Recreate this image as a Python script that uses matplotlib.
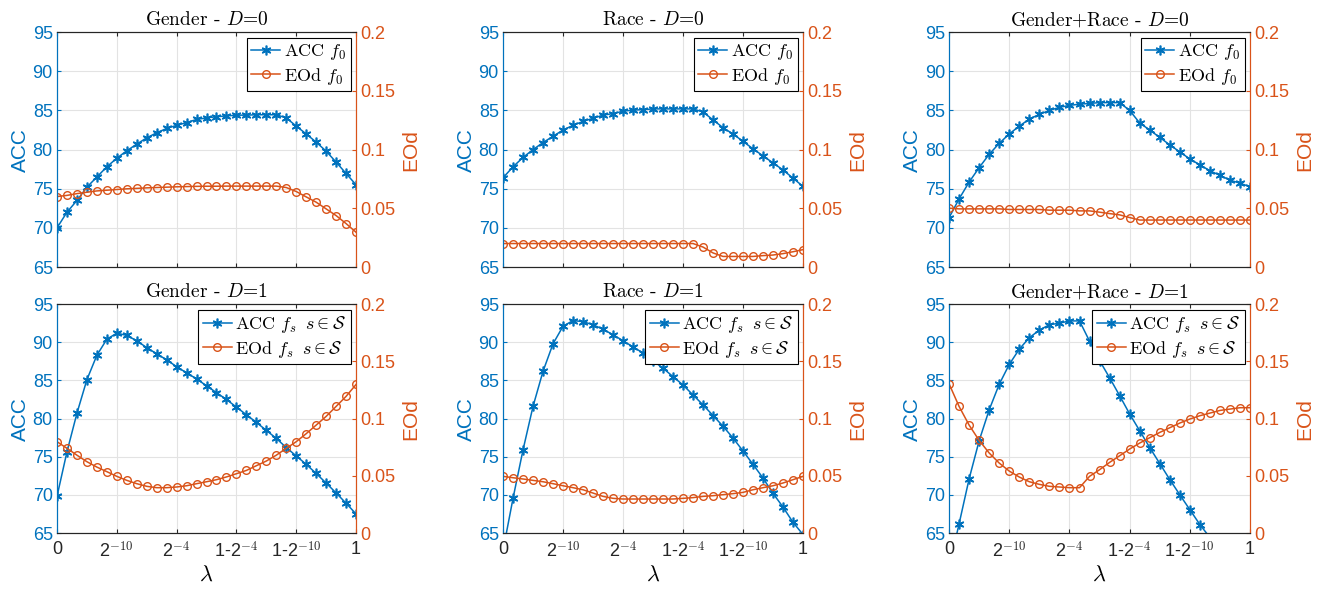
import numpy as np
import matplotlib
matplotlib.use('Agg')
import matplotlib.pyplot as plt

plt.rcParams['mathtext.fontset'] = 'cm'
plt.rcParams['font.family'] = ['Liberation Sans', 'DejaVu Sans']

BLUE = '#0072BD'
ORANGE = '#D95319'
DARK = '#262626'

lam = np.arange(31)
xtick_pos = [0, 6, 12, 18, 24, 30]
xtick_labels = ['0', r'2$^{\mathsf{-10}}$', r'2$^{\mathsf{-4}}$',
                r'1-2$^{\mathsf{-4}}$', r'1-2$^{\mathsf{-10}}$', '1']
acc_ticks = [65, 70, 75, 80, 85, 90, 95]
eod_ticks = [0, 0.05, 0.1, 0.15, 0.2]
eod_labels = ['0', '0.05', '0.1', '0.15', '0.2']

titles = ['Gender - $D$=0', 'Race - $D$=0', 'Gender+Race - $D$=0',
          'Gender - $D$=1', 'Race - $D$=1', 'Gender+Race - $D$=1']

# D=0
acc_gender_0 = [70.0, 72.0, 73.5, 75.2, 76.5, 77.8, 78.9, 79.85, 80.7, 81.5, 82.15,
                82.7, 83.1, 83.45, 83.85, 84.05, 84.2, 84.3, 84.4, 84.4, 84.45,
                84.45, 84.45, 84.05, 83.0, 82.0, 80.95, 79.8, 78.4, 76.95, 75.5]
eod_gender_0 = [0.060, 0.061, 0.0625, 0.0637, 0.0648, 0.0654, 0.066, 0.0666, 0.067,
                0.0674, 0.0677, 0.068, 0.0683, 0.0685, 0.0687, 0.0688, 0.0688,
                0.0689, 0.0689, 0.0689, 0.0689, 0.0689, 0.0689, 0.0677, 0.0643,
                0.0597, 0.0552, 0.0495, 0.0438, 0.037, 0.0296]
acc_race_0 = [76.4, 77.8, 79.0, 80.0, 80.9, 81.7, 82.5, 83.1, 83.6, 84.0, 84.4,
              84.6, 84.9, 85.05, 85.1, 85.2, 85.2, 85.2, 85.2, 85.2, 84.8, 83.8,
              82.8, 82.0, 81.05, 80.1, 79.2, 78.3, 77.4, 76.35, 75.3]
eod_race_0 = [0.02, 0.02, 0.02, 0.02, 0.02, 0.02, 0.02, 0.02, 0.02, 0.02, 0.02,
              0.02, 0.02, 0.02, 0.02, 0.02, 0.02, 0.02, 0.02, 0.02, 0.017, 0.012,
              0.009, 0.009, 0.009, 0.009, 0.0097, 0.0102, 0.0114, 0.013, 0.0148]
acc_gr_0 = [71.3, 73.7, 75.85, 77.7, 79.4, 80.8, 82.0, 83.0, 83.9, 84.5, 85.0,
            85.4, 85.65, 85.8, 85.9, 86.0, 86.0, 86.0, 85.0, 83.4, 82.5, 81.55,
            80.6, 79.7, 78.8, 78.05, 77.3, 76.7, 76.1, 75.7, 75.25]
eod_gr_0 = [0.0501, 0.0495, 0.0495, 0.0495, 0.0495, 0.0495, 0.049, 0.049, 0.049,
            0.049, 0.0484, 0.0484, 0.0484, 0.0478, 0.0478, 0.0467, 0.0455, 0.0444,
            0.0421, 0.04, 0.04, 0.04, 0.04, 0.04, 0.04, 0.04, 0.04, 0.04, 0.04,
            0.04, 0.04]

# D=1
acc_gender_1 = [69.8, 75.65, 80.7, 85.1, 88.3, 90.4, 91.2, 90.9, 90.2, 89.3, 88.5,
                87.7, 86.8, 86.0, 85.2, 84.3, 83.4, 82.5, 81.5, 80.5, 79.5, 78.45,
                77.4, 76.2, 75.1, 74.0, 72.8, 71.55, 70.25, 68.9, 67.5]
eod_gender_1 = [0.0798, 0.074, 0.068, 0.0623, 0.0576, 0.0536, 0.0495, 0.046, 0.0431,
                0.0408, 0.0396, 0.0396, 0.0402, 0.0413, 0.0431, 0.0448, 0.0466,
                0.049, 0.0518, 0.0547, 0.0588, 0.0629, 0.068, 0.074, 0.0798,
                0.0868, 0.0943, 0.1019, 0.1106, 0.1194, 0.1298]
acc_race_1 = [62.7, 69.55, 75.9, 81.6, 86.2, 89.8, 92.1, 92.85, 92.7, 92.3, 91.7,
              91.0, 90.2, 89.4, 88.6, 87.6, 86.6, 85.5, 84.4, 83.1, 81.8, 80.4,
              79.0, 77.45, 75.75, 74.0, 72.2, 70.2, 68.4, 66.4, 64.8]
eod_race_1 = [0.0495, 0.0483, 0.0472, 0.046, 0.0448, 0.0431, 0.0413, 0.0396, 0.0378,
              0.0349, 0.032, 0.0303, 0.0297, 0.0297, 0.0297, 0.0297, 0.0297, 0.0297,
              0.0303, 0.0309, 0.032, 0.0326, 0.0335, 0.0344, 0.0355, 0.0378,
              0.0396, 0.0413, 0.0437, 0.0466, 0.0495]
acc_gr_1 = [60.5, 66.2, 72.1, 77.1, 81.15, 84.5, 87.1, 89.1, 90.6, 91.6, 92.3,
            92.5, 92.8, 92.8, 90.15, 87.6, 85.35, 83.0, 80.6, 78.4, 76.2, 74.1,
            72.0, 70.0, 68.05, 66.1, 64.4, 62.5, 60.6, 58.7, 56.8]
eod_gr_1 = [0.1304, 0.1106, 0.0943, 0.0809, 0.0699, 0.0611, 0.0541, 0.0489, 0.0448,
            0.0425, 0.0408, 0.0402, 0.0396, 0.0396, 0.0495, 0.0553, 0.0617, 0.0675,
            0.0734, 0.0786, 0.0833, 0.0879, 0.092, 0.0961, 0.0996, 0.1025, 0.1048,
            0.1071, 0.1083, 0.1095, 0.1095]

accs = [acc_gender_0, acc_race_0, acc_gr_0, acc_gender_1, acc_race_1, acc_gr_1]
eods = [eod_gender_0, eod_race_0, eod_gr_0, eod_gender_1, eod_race_1, eod_gr_1]

fig = plt.figure(figsize=(13.35, 5.96), dpi=100)
lefts = [0.0427, 0.3768, 0.7109]
widths = [0.224, 0.2247, 0.2255]
bottoms = [0.552, 0.1057]
heights = [0.394, 0.384]

for i in range(6):
    r, c = divmod(i, 3)
    ax = fig.add_axes([lefts[c], bottoms[r], widths[c], heights[r]])
    ax2 = ax.twinx()
    if r == 0:
        la, le = 'ACC $f_0$', 'EOd $f_0$'
    else:
        la, le = r'ACC $f_s\;\;s\in\mathcal{S}$', r'EOd $f_s\;\;s\in\mathcal{S}$'
    # MATLAB-style asterisk marker
    h1, = ax.plot(lam, accs[i], color=BLUE, marker=(6, 2, 0), ms=7, mew=1.2,
                  lw=1.1, label=la)
    h2, = ax2.plot(lam, eods[i], color=ORANGE, marker='o', ms=5.5, mfc='none',
                   mew=1.0, lw=1.1, label=le)

    ax.set_xlim(0, 30)
    ax.set_ylim(65, 95)
    ax2.set_ylim(0, 0.2)
    ax.set_xticks(xtick_pos)
    if r == 1:
        ax.set_xticklabels(xtick_labels)
        ax.set_xlabel(r'$\lambda$', fontsize=16, labelpad=2)
    else:
        ax.set_xticklabels([])
    ax.set_yticks(acc_ticks)
    ax2.set_yticks(eod_ticks)
    ax2.set_yticklabels(eod_labels)

    ax.grid(True, color='#e3e3e3', lw=0.8)
    ax.set_axisbelow(True)

    ax.tick_params(axis='y', colors=BLUE, labelsize=13, direction='in', length=3, pad=3)
    ax.tick_params(axis='x', colors=DARK, labelsize=13, direction='in', length=3,
                   top=True, pad=6)
    ax2.tick_params(axis='y', colors=ORANGE, labelsize=13, direction='in', length=3, pad=3)
    for a in (ax, ax2):
        a.spines['left'].set_color(BLUE)
        a.spines['right'].set_color(ORANGE)
        a.spines['top'].set_color(DARK)
        a.spines['bottom'].set_color(DARK)
        for s in a.spines.values():
            s.set_linewidth(0.8)

    ax.set_ylabel('ACC', color=BLUE, fontsize=15, labelpad=2)
    ax2.set_ylabel('EOd', color=ORANGE, fontsize=15, labelpad=4)
    ax.set_title(titles[i], fontfamily='cmr10', fontsize=14, pad=5)

    leg = ax2.legend([h1, h2], [la, le], loc='upper right',
                     prop={'family': 'cmr10', 'size': 13},
                     fancybox=False, framealpha=1, edgecolor='black',
                     borderaxespad=0.3, handlelength=1.6, handletextpad=0.2,
                     borderpad=0.25, labelspacing=0.2)
    leg.get_frame().set_linewidth(0.8)

fig.savefig('out.png', dpi=100)
